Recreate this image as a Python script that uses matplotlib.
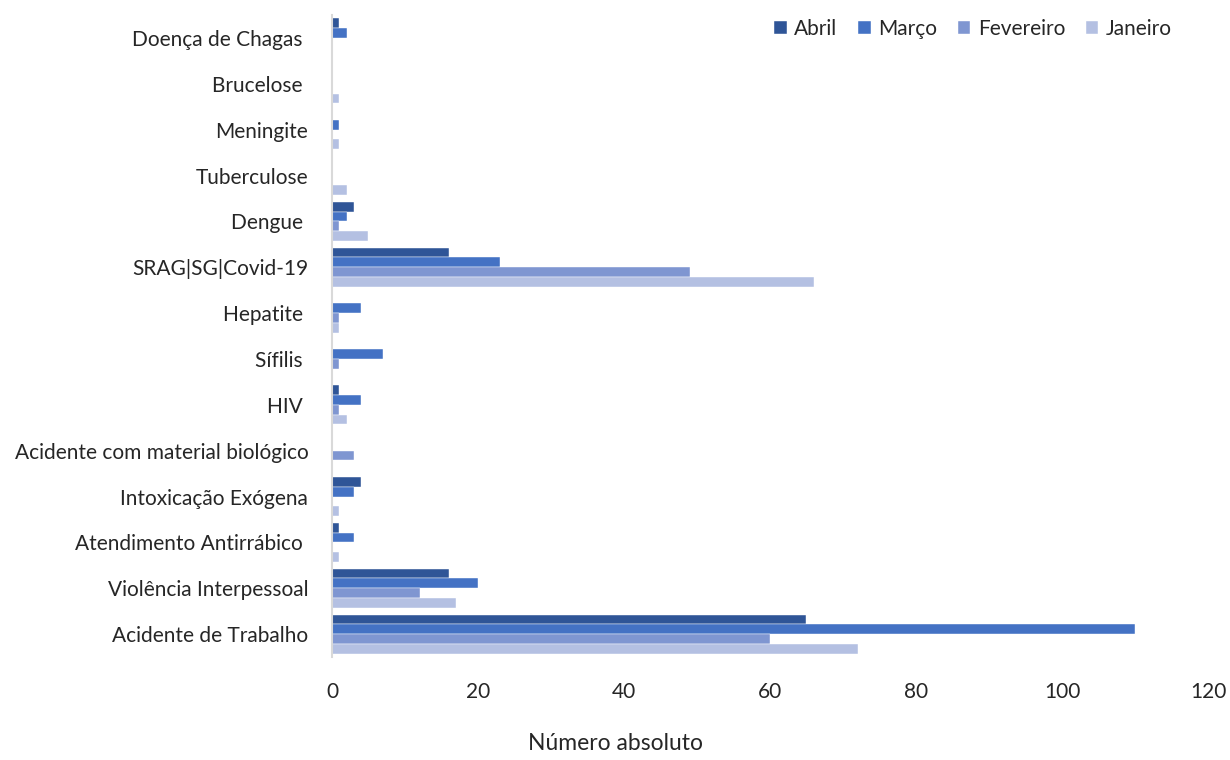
import numpy as np
import matplotlib.pyplot as plt

plt.rcParams['font.family'] = ['Lato', 'DejaVu Sans']

# Categorias (de baixo para cima no gráfico)
categorias = ["Acidente de Trabalho", "Violência Interpessoal", "Atendimento Antirrábico ",
              "Intoxicação Exógena", "Acidente com material biológico", "HIV ",
              "Sífilis ", "Hepatite ", "SRAG|SG|Covid-19", "Dengue ", "Tuberculose",
              "Meningite", "Brucelose ", "Doença de Chagas "]

abril     = [65, 16, 1, 4, 0, 1, 0, 0, 16, 3, 0, 0, 0, 1]
marco     = [110, 20, 3, 3, 0, 4, 7, 4, 23, 2, 0, 1, 0, 2]
fevereiro = [60, 12, 0, 0, 3, 1, 1, 1, 49, 1, 0, 0, 0, 0]
janeiro   = [72, 17, 1, 1, 0, 2, 0, 1, 66, 5, 2, 1, 1, 0]

series = [("Abril", abril, "#2F5597"),
          ("Março", marco, "#4472C4"),
          ("Fevereiro", fevereiro, "#7F96D1"),
          ("Janeiro", janeiro, "#B4C0E2")]

fig = plt.figure(figsize=(12.3, 7.6), dpi=100)
ax = fig.add_axes([0.2699, 0.1355, 0.7122, 0.8447])

y = np.arange(len(categorias))
h = 0.213
offsets = [1.5 * h, 0.5 * h, -0.5 * h, -1.5 * h]

for (nome, valores, cor), off in zip(series, offsets):
    ax.barh(y + off, valores, height=h, color=cor, label=nome,
            edgecolor="white", linewidth=0.3)

ax.set_yticks(y)
ax.set_yticklabels(categorias)
ax.set_ylim(-0.5, len(categorias) - 0.5)
ax.set_xlim(0, 120)
ax.set_xticks(np.arange(0, 121, 20))

ax.tick_params(axis="y", length=0, pad=17, labelsize=15, labelcolor="#262626")
ax.tick_params(axis="x", length=0, pad=18, labelsize=15, labelcolor="#262626")

for s in ["top", "right", "bottom"]:
    ax.spines[s].set_visible(False)
ax.spines["left"].set_color("#d9d9d9")
ax.spines["left"].set_linewidth(1.5)

ax.legend(ncol=4, loc="upper right", bbox_to_anchor=(0.98, 1.023), frameon=False,
          fontsize=15, handlelength=0.6, handleheight=0.6, handletextpad=0.35,
          columnspacing=1.0, labelcolor="#262626")

fig.text(0.5, 0.008, "Número absoluto", ha="center", va="bottom",
         fontsize=16.5, color="#262626")

fig.savefig("out.png", dpi=100)
